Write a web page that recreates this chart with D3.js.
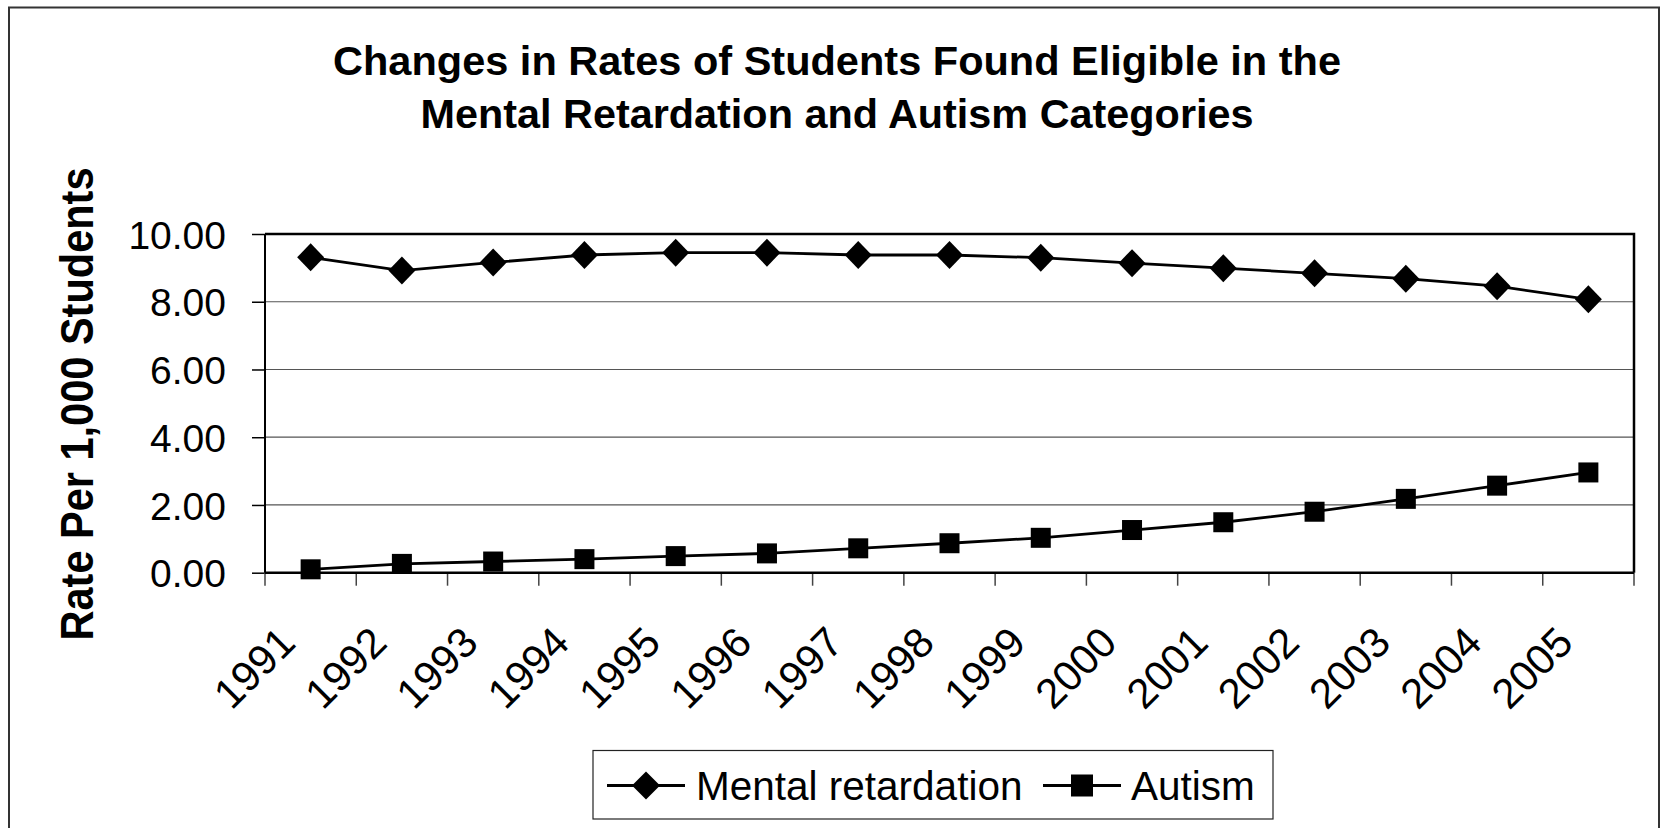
<!DOCTYPE html>
<html><head><meta charset="utf-8">
<script src="https://cdn.jsdelivr.net/npm/d3@7"></script>
<style>
body{margin:0;background:#fff}
svg{display:block}
text{font-family:"Liberation Sans",Arial,Helvetica,sans-serif;fill:#000}
</style>
</head><body>
<svg id="chart" width="1660" height="828"></svg>
<script>
// ---- data ----
const years = ["1991","1992","1993","1994","1995","1996","1997","1998","1999","2000","2001","2002","2003","2004","2005"];
const mentalRetardation = [9.31, 8.92, 9.16, 9.38, 9.45, 9.45, 9.38, 9.38, 9.30, 9.14, 8.99, 8.84, 8.68, 8.46, 8.07];
const autism = [0.10, 0.26, 0.33, 0.40, 0.49, 0.57, 0.72, 0.87, 1.03, 1.26, 1.49, 1.80, 2.18, 2.57, 2.96];
const yTicks = [0, 2, 4, 6, 8, 10];
const seriesNames = ["Mental retardation", "Autism"];
const titleLines = ["Changes in Rates of Students Found Eligible in the", "Mental Retardation and Autism Categories"];
const yAxisTitle = "Rate Per 1,000 Students";

// ---- layout ----
const svg = d3.select("#chart");
const L = 265, R = 1634, T = 234, B = 572.7;
const x = d3.scaleBand().domain(years).range([L, R]).padding(0);
const y = d3.scaleLinear().domain([0, 10]).range([B, T]);
const cx = d => x(d) + x.bandwidth() / 2;

// outer border
svg.append("rect").attr("x", 9).attr("y", 7.5).attr("width", 1650).attr("height", 830)
  .attr("fill", "none").attr("stroke", "#333").attr("stroke-width", 2);

// title
const titleWidths = [1008, 833];
const titleBase = [75, 128];
titleLines.forEach((t, i) => {
  svg.append("text").attr("x", 837).attr("y", titleBase[i])
    .attr("text-anchor", "middle").attr("font-weight", "bold").attr("font-size", 40)
    .attr("textLength", titleWidths[i]).attr("lengthAdjust", "spacingAndGlyphs")
    .text(t);
});

// y-axis title
svg.append("text").attr("transform", "translate(93,404) rotate(-90)")
  .attr("text-anchor", "middle").attr("font-weight", "bold").attr("font-size", 46)
  .attr("textLength", 473).attr("lengthAdjust", "spacingAndGlyphs")
  .text(yAxisTitle);

// gridlines
svg.append("g").selectAll("line").data(yTicks.filter(v => v > 0 && v < 10)).join("line")
  .attr("x1", L).attr("x2", R).attr("y1", d => y(d)).attr("y2", d => y(d))
  .attr("stroke", "#555").attr("stroke-width", 1.2);

// y axis ticks + labels
const yAxis = d3.axisLeft(y).tickValues(yTicks).tickFormat(d3.format(".2f")).tickSize(13).tickPadding(26);
const gy = svg.append("g").attr("transform", `translate(${L},0)`).call(yAxis);
gy.select(".domain").remove();
gy.selectAll(".tick line").attr("stroke", "#000").attr("stroke-width", 1.5);
gy.selectAll(".tick text").attr("font-size", 39).attr("font-family", "Liberation Sans, Arial, sans-serif")
  .attr("fill", "#000").attr("dy", "0.36em");

// x ticks at band edges
const edges = years.map(d => x(d)).concat([R]);
svg.append("g").selectAll("line").data(edges).join("line")
  .attr("x1", d => d).attr("x2", d => d).attr("y1", B).attr("y2", B + 13)
  .attr("stroke", "#444").attr("stroke-width", 1.5);

// x labels rotated
svg.append("g").selectAll("text").data(years).join("text")
  .attr("transform", d => `translate(${cx(d) - 13},645) rotate(-45)`)
  .attr("text-anchor", "end").attr("font-size", 42)
  .text(d => d);

// plot frame
svg.append("path").attr("d", `M${L},${T}H${R}V${B}`).attr("fill", "none")
  .attr("stroke", "#000").attr("stroke-width", 2.5);
svg.append("line").attr("x1", L).attr("x2", R).attr("y1", B).attr("y2", B)
  .attr("stroke", "#000").attr("stroke-width", 2.5);
svg.append("line").attr("x1", L).attr("x2", L).attr("y1", T).attr("y2", B)
  .attr("stroke", "#000").attr("stroke-width", 2);

// series lines
const line = d3.line().x((d, i) => cx(years[i])).y(d => y(d));
[mentalRetardation, autism].forEach(s => {
  svg.append("path").datum(s).attr("d", line).attr("fill", "none")
    .attr("stroke", "#000").attr("stroke-width", 2.8);
});

// markers
const diamond = (hw, hh) => `M0,${-hh}L${hw},0L0,${hh}L${-hw},0Z`;
svg.append("g").selectAll("path").data(mentalRetardation).join("path")
  .attr("transform", (d, i) => `translate(${cx(years[i])},${y(d)})`)
  .attr("d", diamond(13.5, 14)).attr("fill", "#000");
svg.append("g").selectAll("rect").data(autism).join("rect")
  .attr("x", (d, i) => cx(years[i]) - 10).attr("y", d => y(d) - 10)
  .attr("width", 20).attr("height", 20).attr("fill", "#000");

// legend
const lg = svg.append("g");
lg.append("rect").attr("x", 593).attr("y", 750.5).attr("width", 680).attr("height", 68.5)
  .attr("fill", "#fff").attr("stroke", "#222").attr("stroke-width", 1.2);
const legendItems = [
  {name: seriesNames[0], x0: 607, type: "diamond", tx: 696},
  {name: seriesNames[1], x0: 1043, type: "square", tx: 1131}
];
legendItems.forEach(it => {
  const ly = 785.5;
  lg.append("line").attr("x1", it.x0).attr("x2", it.x0 + 78).attr("y1", ly).attr("y2", ly)
    .attr("stroke", "#000").attr("stroke-width", 2.8);
  if (it.type === "diamond") {
    lg.append("path").attr("transform", `translate(${it.x0 + 39},${ly})`).attr("d", diamond(14, 14)).attr("fill", "#000");
  } else {
    lg.append("rect").attr("x", it.x0 + 39 - 11).attr("y", ly - 11).attr("width", 22).attr("height", 22).attr("fill", "#000");
  }
  lg.append("text").attr("x", it.tx).attr("y", 799.5).attr("font-size", 40.5).text(it.name);
});
</script>
</body></html>
